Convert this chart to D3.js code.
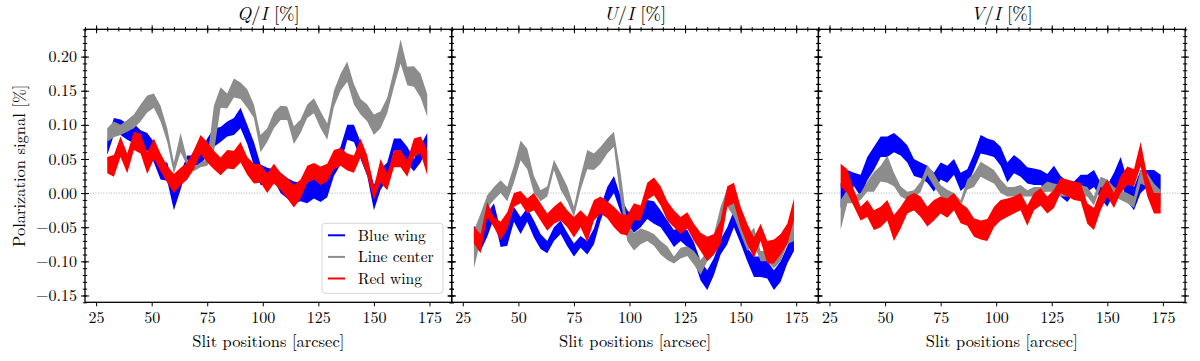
<!DOCTYPE html>
<html>
<head>
<meta charset="utf-8">
<script src="https://cdn.jsdelivr.net/npm/d3@7"></script>
<style>
  body { margin: 0; background: #fff; }
</style>
</head>
<body>
<svg id="chart" width="1200" height="361"></svg>
<script>
// slit positions [arcsec]
var slitPos = [30,33,36,39,42,45,48,51,54,57,60,63,66,69,72,75,78,81,84,87,90,93,96,99,102,105,108,111,114,117,120,123,126,129,132,135,138,141,144,147,150,153,156,159,162,165,168,171,174];

// Q/I
var qBlueHi = [.078,.11,.108,.102,.102,.092,.088,.075,.045,.045,.01,.03,.055,.055,.06,.08,.095,.097,.105,.11,.125,.1,.075,.042,.037,.035,.03,.022,.017,.015,.015,.027,.02,.024,.05,.068,.1,.1,.075,.05,.012,.035,.045,.08,.08,.068,.05,.07,.088];
var qBlueLo = [.056,.085,.085,.078,.073,.068,.062,.045,.02,.018,-.025,.005,.038,.04,.042,.055,.068,.075,.083,.085,.095,.072,.04,.012,.012,.018,0,-.008,-.015,-.012,-.015,-.008,-.013,-.006,.025,.042,.078,.075,.05,.025,-.025,.005,.02,.062,.062,.043,.032,.045,.065];
var qGrayHi = [.095,.105,.1,.107,.115,.13,.143,.146,.128,.095,.045,.088,.05,.038,.045,.05,.128,.155,.146,.168,.162,.152,.13,.085,.095,.118,.128,.127,.098,.108,.13,.139,.12,.102,.15,.175,.193,.16,.138,.13,.115,.12,.14,.18,.225,.185,.186,.175,.145];
var qGrayLo = [.075,.082,.085,.09,.095,.105,.118,.125,.105,.075,.028,.06,.04,.032,.038,.04,.06,.125,.124,.14,.138,.125,.11,.06,.075,.095,.107,.107,.072,.088,.11,.117,.095,.078,.126,.15,.163,.13,.115,.105,.085,.095,.117,.155,.19,.158,.156,.14,.112];
var qRedHi = [.053,.056,.083,.058,.09,.087,.06,.08,.058,.04,.028,.037,.045,.063,.085,.075,.062,.052,.063,.062,.075,.053,.043,.042,.029,.043,.03,.022,.012,.02,.04,.044,.039,.043,.063,.066,.058,.055,.08,.055,.009,.05,.029,.062,.063,.048,.08,.083,.063];
var qRedLo = [.029,.024,.053,.029,.063,.058,.028,.05,.032,.015,0,.011,.02,.035,.057,.045,.035,.026,.036,.035,.045,.027,.014,.015,0,.014,.004,-.008,-.021,-.008,.015,.02,.012,.017,.035,.04,.033,.03,.052,.025,-.01,.015,.004,.038,.038,.024,.053,.058,.026];

// U/I
var uBlueHi = [-.049,-.05,-.03,-.015,-.054,-.05,-.02,-.035,-.022,-.04,-.06,-.07,-.05,-.04,-.058,-.074,-.063,-.07,-.052,-.02,.009,.025,-.005,-.025,-.035,-.025,-.01,-.012,-.025,-.04,-.054,-.05,-.054,-.072,-.1,-.113,-.095,-.068,-.05,-.025,-.05,-.08,-.093,-.093,-.1,-.113,-.1,-.078,-.055];
var uBlueLo = [-.081,-.085,-.064,-.037,-.079,-.077,-.042,-.06,-.042,-.065,-.082,-.088,-.07,-.06,-.078,-.093,-.08,-.09,-.075,-.04,-.015,0,-.028,-.045,-.058,-.05,-.038,-.045,-.05,-.064,-.079,-.07,-.079,-.098,-.128,-.142,-.12,-.09,-.075,-.05,-.074,-.1,-.123,-.123,-.125,-.142,-.13,-.103,-.085];
var uGrayHi = [-.055,-.03,-.003,.009,.019,.009,.04,.077,.065,.025,.004,.01,.049,.03,.01,-.02,.025,.063,.058,.068,.08,.09,.03,-.045,-.059,-.052,-.055,-.06,-.07,-.078,-.093,-.08,-.078,-.085,-.098,-.085,-.06,-.02,.007,-.01,-.04,-.065,-.05,-.085,-.085,-.095,-.085,-.06,-.035];
var uGrayLo = [-.11,-.07,-.022,-.01,0,-.012,.015,.048,.035,0,-.012,-.005,.034,.005,-.012,-.035,.005,.035,.034,.043,.058,.068,-.01,-.07,-.084,-.075,-.07,-.077,-.09,-.098,-.103,-.096,-.092,-.105,-.12,-.1,-.09,-.05,-.02,-.035,-.06,-.085,-.075,-.1,-.1,-.11,-.1,-.075,-.07];
var uRedHi = [-.049,-.06,-.013,-.035,-.042,-.028,0,.003,-.008,0,-.015,-.03,-.02,-.012,-.025,-.035,-.025,-.035,-.01,-.005,-.012,-.02,-.03,-.032,-.015,-.018,.015,.023,.01,-.012,-.025,-.035,-.028,-.045,-.058,-.064,-.06,-.04,.01,.015,-.02,-.045,-.065,-.045,-.07,-.068,-.06,-.045,-.008];
var uRedLo = [-.074,-.088,-.035,-.05,-.069,-.053,-.02,-.015,-.03,-.025,-.04,-.055,-.045,-.04,-.05,-.065,-.05,-.072,-.04,-.03,-.037,-.05,-.06,-.062,-.04,-.04,-.01,-.003,-.018,-.04,-.05,-.06,-.052,-.07,-.085,-.1,-.09,-.075,-.02,-.015,-.05,-.075,-.095,-.07,-.103,-.103,-.09,-.075,-.04];

// V/I
var vBlueHi = [.014,.034,.03,.027,.053,.068,.083,.083,.088,.08,.07,.05,.045,.04,.03,.045,.04,.05,.03,.035,.058,.085,.08,.077,.068,.045,.056,.048,.038,.036,.034,.028,.04,.025,.017,.017,.027,.027,.034,.015,.012,.03,.053,.02,.009,.034,.034,.034,.027];
var vBlueLo = [-.022,0,.01,-.005,.019,.034,.053,.053,.06,.055,.045,.025,.022,.015,.002,.02,.015,.027,.003,.012,.034,.058,.056,.053,.04,.016,.029,.024,.014,.012,.012,.004,.01,-.005,-.013,0,.004,.002,.009,-.008,-.02,0,.017,-.012,-.025,0,.009,.009,0];
var vGrayHi = [-.01,.005,-.003,0,.017,.031,.04,.055,.03,.01,.002,.004,.017,.041,.029,.012,.005,0,-.01,.02,.029,.046,.04,.034,.02,.009,.009,.012,.004,.009,.009,.017,.014,.012,.01,.017,.012,.009,-.005,.024,.02,.009,.004,0,-.005,.034,.029,.014,.004];
var vGrayLo = [-.054,-.015,-.015,-.01,.002,.002,.017,.015,.01,-.005,-.01,-.008,.002,.026,.01,-.005,-.01,-.015,-.02,.005,.009,.024,.019,.014,0,-.005,-.005,-.005,-.005,-.005,0,.002,.002,-.005,-.005,0,-.005,-.005,-.018,.009,.004,-.005,-.01,-.015,-.022,.014,.009,-.01,-.02];
var vRedHi = [.043,.035,.005,-.02,-.01,-.025,-.02,-.01,-.032,-.02,-.005,0,-.005,-.02,-.01,-.005,-.008,0,-.015,-.022,-.037,-.04,-.038,-.02,-.01,-.008,-.005,0,-.018,0,.007,-.005,.005,.022,.02,.017,.015,-.015,-.022,.005,.02,0,.025,.039,.035,.075,.025,0,0];
var vRedLo = [.009,0,-.02,-.04,-.035,-.054,-.05,-.04,-.07,-.052,-.03,-.025,-.035,-.049,-.04,-.03,-.036,-.025,-.044,-.048,-.064,-.068,-.07,-.05,-.04,-.035,-.03,-.025,-.048,-.025,-.018,-.03,-.022,0,-.005,-.01,-.012,-.045,-.054,-.025,-.005,-.022,0,.012,.01,.039,-.005,-.03,-.03];

var panelTitles = ["Q", "U", "V"];
var legendNames = ["Blue wing", "Line center", "Red wing"];
var colors = ["#0000ff", "#8c8c8c", "#ff0000"];
var xMajor = [25, 50, 75, 100, 125, 150, 175];
var yMajor = [-0.15, -0.10, -0.05, 0.00, 0.05, 0.10, 0.15, 0.20];

var panels = [
  [[qBlueLo, qBlueHi], [qGrayLo, qGrayHi], [qRedLo, qRedHi]],
  [[uBlueLo, uBlueHi], [uGrayLo, uGrayHi], [uRedLo, uRedHi]],
  [[vBlueLo, vBlueHi], [vGrayLo, vGrayHi], [vRedLo, vRedHi]]
];

var margin = {top: 29.3, left: 85},
    pw = 366.7,
    ph = 273;

var svg = d3.select("#chart");

// find a serif font that is really installed (width differs between fallbacks otherwise)
function pickSerif() {
  var cands = ["Latin Modern Roman", "CMU Serif", "Liberation Serif", "DejaVu Serif", "Noto Serif", "Times New Roman"];
  var probe = svg.append("text").attr("font-size", 40).text("Slit positions 0.20 [arcsec]");
  var found = "serif";
  for (var i = 0; i < cands.length; i++) {
    probe.style("font-family", "'" + cands[i] + "', monospace");
    var a = probe.node().getComputedTextLength();
    probe.style("font-family", "'" + cands[i] + "', sans-serif");
    var b = probe.node().getComputedTextLength();
    if (Math.abs(a - b) < 0.5) { found = "'" + cands[i] + "', serif"; break; }
  }
  probe.remove();
  return found;
}
var fontFam = pickSerif();
svg.style("font-family", fontFam);

var x = d3.scaleLinear().domain([20, 185]).range([0, pw]);
var y = d3.scaleLinear().domain([-0.16, 0.24]).range([ph, 0]);

var xMinor = d3.range(20, 186, 5);
var yMinor = d3.range(-16, 25, 1).map(function(d) { return d / 100; });

svg.append("defs").append("clipPath").attr("id", "clip")
  .append("rect").attr("width", pw).attr("height", ph);

var area = d3.area()
  .x(function(d) { return x(d.x); })
  .y0(function(d) { return y(d.lo); })
  .y1(function(d) { return y(d.hi); });

// inout ticks: shift the tick line so it crosses the spine
function inout(g, len, vertical) {
  g.selectAll(".tick line")
    .attr(vertical ? "y1" : "x1", -len)
    .attr(vertical ? "y2" : "x2", len)
    .attr("stroke", "#000").attr("stroke-width", 1);
  g.select(".domain").remove();
}

function styleLabels(g) {
  g.attr("font-family", null);
  g.selectAll("text").attr("font-size", "16px").style("font-family", fontFam).attr("fill", "#000");
}

panels.forEach(function(series, p) {
  var g = svg.append("g")
    .attr("transform", "translate(" + (margin.left + p * pw) + "," + margin.top + ")");

  var plot = g.append("g").attr("clip-path", "url(#clip)");

  // zero line
  plot.append("line")
    .attr("x1", 0).attr("x2", pw)
    .attr("y1", y(0)).attr("y2", y(0))
    .attr("stroke", "#9a9a9a").attr("stroke-width", 0.8)
    .attr("stroke-dasharray", "1,1.6");

  series.forEach(function(s, k) {
    var pts = slitPos.map(function(v, i) { return {x: v, lo: s[0][i], hi: s[1][i]}; });
    plot.append("path")
      .datum(pts)
      .attr("d", area)
      .attr("fill", colors[k]);
  });

  // ticks on all four sides
  var left = g.append("g").call(d3.axisLeft(y).tickValues(yMajor).tickSize(0).tickFormat(""));
  inout(left, 4, false);
  var leftMin = g.append("g").call(d3.axisLeft(y).tickValues(yMinor).tickSize(0).tickFormat(""));
  inout(leftMin, 2.2, false);
  var right = g.append("g").attr("transform", "translate(" + pw + ",0)")
    .call(d3.axisRight(y).tickValues(yMajor).tickSize(0).tickFormat(""));
  inout(right, 4, false);
  var rightMin = g.append("g").attr("transform", "translate(" + pw + ",0)")
    .call(d3.axisRight(y).tickValues(yMinor).tickSize(0).tickFormat(""));
  inout(rightMin, 2.2, false);
  var top = g.append("g").call(d3.axisTop(x).tickValues(xMajor).tickSize(0).tickFormat(""));
  inout(top, 4, true);
  var topMin = g.append("g").call(d3.axisTop(x).tickValues(xMinor).tickSize(0).tickFormat(""));
  inout(topMin, 2.2, true);

  var bottom = g.append("g").attr("transform", "translate(0," + ph + ")")
    .call(d3.axisBottom(x).tickValues(xMajor).tickSize(4).tickPadding(5).tickFormat(d3.format("d")));
  bottom.select(".domain").remove();
  bottom.selectAll(".tick line").attr("stroke", "#000").attr("stroke-width", 1);
  styleLabels(bottom);

  if (p === 0) {
    var yl = g.append("g").call(d3.axisLeft(y).tickValues(yMajor).tickSize(4).tickPadding(4).tickFormat(d3.format(".2f")));
    yl.select(".domain").remove();
    yl.selectAll(".tick line").remove();
    styleLabels(yl);
  }

  // frame
  g.append("rect")
    .attr("width", pw).attr("height", ph)
    .attr("fill", "none").attr("stroke", "#000").attr("stroke-width", 1.3);

  // title
  var t = g.append("text")
    .attr("x", pw / 2).attr("y", -9.5)
    .attr("text-anchor", "middle")
    .attr("font-size", "18.5px");
  t.append("tspan").attr("font-style", "italic").text(panelTitles[p]);
  t.append("tspan").text("/");
  t.append("tspan").attr("font-style", "italic").text("I");
  t.append("tspan").text(" [%]");

  g.append("text")
    .attr("x", pw / 2).attr("y", ph + 45)
    .attr("text-anchor", "middle")
    .attr("font-size", "16.5px")
    .text("Slit positions [arcsec]");

  if (p === 0) {
    g.append("text")
      .attr("transform", "translate(" + (-60) + "," + (ph / 2) + ") rotate(-90)")
      .attr("text-anchor", "middle")
      .attr("font-size", "16.5px")
      .text("Polarization signal [%]");

    // legend
    var lg = g.append("g").attr("transform", "translate(237,194)");
    lg.append("rect")
      .attr("width", 121).attr("height", 70).attr("rx", 3)
      .attr("fill", "#fff").attr("fill-opacity", 0.8)
      .attr("stroke", "#d6d6d6").attr("stroke-width", 1);
    legendNames.forEach(function(name, k) {
      var yy = 12 + k * 21.6;
      lg.append("line")
        .attr("x1", 6).attr("x2", 23)
        .attr("y1", yy).attr("y2", yy)
        .attr("stroke", colors[k]).attr("stroke-width", 2);
      lg.append("text")
        .attr("x", 36).attr("y", yy + 5.3)
        .attr("font-size", "15.5px")
        .text(name);
    });
  }
});
</script>
</body>
</html>
